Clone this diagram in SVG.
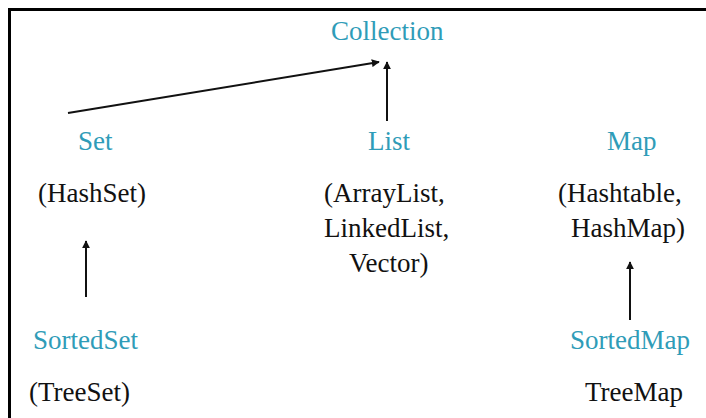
<svg xmlns="http://www.w3.org/2000/svg" width="706" height="418" viewBox="0 0 706 418">
  <defs>
    <marker id="head" viewBox="0 0 10 10" refX="9" refY="5" markerWidth="4" markerHeight="4" orient="auto" markerUnits="strokeWidth">
      <path d="M0,0 L10,5 L0,10 z" fill="#111111"/>
    </marker>
  </defs>
  <rect width="706" height="418" fill="#ffffff"/>
  <path d="M9.5,418 V9.5 H706" stroke="#000000" stroke-width="3" fill="none"/>

  <!-- inheritance arrows, pointing from sub-interface to parent -->
  <g id="connectors" stroke="#111111" stroke-width="2" fill="none">
    <line x1="68" y1="113" x2="379" y2="62" marker-end="url(#head)"/>
    <line x1="387" y1="121" x2="387" y2="62" marker-end="url(#head)"/>
    <line x1="86" y1="297" x2="86" y2="241" marker-end="url(#head)"/>
    <line x1="630" y1="320" x2="630" y2="262" marker-end="url(#head)"/>
  </g>

  <g id="collection">
    <text x="331" y="40" style="font-family:'Liberation Serif','Times New Roman',serif;font-size:27px" fill="#2f9cb8">Collection</text>
  </g>
  <g id="set">
    <text x="78" y="150" style="font-family:'Liberation Serif','Times New Roman',serif;font-size:27px" fill="#2f9cb8">Set</text>
    <text x="38" y="202" style="font-family:'Liberation Serif','Times New Roman',serif;font-size:27px" fill="#111111">(HashSet)</text>
  </g>
  <g id="list">
    <text x="368" y="150" style="font-family:'Liberation Serif','Times New Roman',serif;font-size:27px" fill="#2f9cb8">List</text>
    <text x="324" y="202" style="font-family:'Liberation Serif','Times New Roman',serif;font-size:27px" fill="#111111">(ArrayList,</text>
    <text x="324" y="237" style="font-family:'Liberation Serif','Times New Roman',serif;font-size:27px" fill="#111111">LinkedList,</text>
    <text x="349" y="272" style="font-family:'Liberation Serif','Times New Roman',serif;font-size:27px" fill="#111111">Vector)</text>
  </g>
  <g id="map">
    <text x="607" y="150" style="font-family:'Liberation Serif','Times New Roman',serif;font-size:27px" fill="#2f9cb8">Map</text>
    <text x="558" y="202" style="font-family:'Liberation Serif','Times New Roman',serif;font-size:27px" fill="#111111">(Hashtable,</text>
    <text x="571" y="237" style="font-family:'Liberation Serif','Times New Roman',serif;font-size:27px" fill="#111111">HashMap)</text>
  </g>
  <g id="sortedset">
    <text x="33" y="349" style="font-family:'Liberation Serif','Times New Roman',serif;font-size:27px" fill="#2f9cb8">SortedSet</text>
    <text x="29" y="401" style="font-family:'Liberation Serif','Times New Roman',serif;font-size:27px" fill="#111111">(TreeSet)</text>
  </g>
  <g id="sortedmap">
    <text x="570" y="349" style="font-family:'Liberation Serif','Times New Roman',serif;font-size:27px" fill="#2f9cb8">SortedMap</text>
    <text x="585" y="401" style="font-family:'Liberation Serif','Times New Roman',serif;font-size:27px" fill="#111111">TreeMap</text>
  </g>
</svg>
